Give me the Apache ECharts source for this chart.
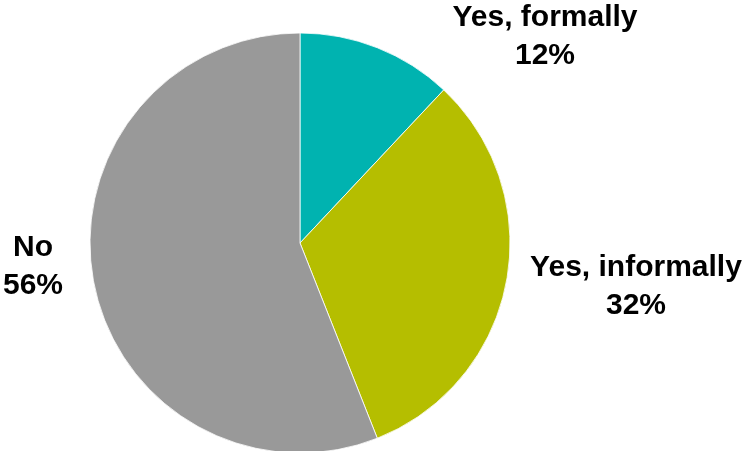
<!DOCTYPE html>
<html>
<head>
<meta charset="utf-8">
<script src="https://cdn.jsdelivr.net/npm/echarts@6/dist/echarts.min.js"></script>
<style>html,body{margin:0;padding:0;background:#fff}#c{width:745px;height:451px}</style>
</head>
<body>
<div id="c"></div>
<script>
const categories = ['Yes, formally', 'Yes, informally', 'No'];
const values = [12, 32, 56];
const colors = ['#00B3B0', '#B5BE00', '#999999'];
const labelSpots = [[545, 37], [636, 287], [33, 267]];

const chart = echarts.init(document.getElementById('c'), null, {renderer: 'canvas'});
chart.setOption({
  animation: false,
  series: [{
    type: 'pie',
    center: [300, 243],
    radius: 210,
    startAngle: 90,
    clockwise: true,
    data: categories.map((n, i) => ({name: n, value: values[i], itemStyle: {color: colors[i]}})),
    itemStyle: {borderColor: '#fff', borderWidth: 0.8},
    label: {
      show: true,
      position: 'outside',
      formatter: p => p.name + '\n' + p.value + '%',
      fontFamily: 'Liberation Sans, Arial, sans-serif',
      fontWeight: 'bold',
      fontSize: 30,
      lineHeight: 38,
      color: '#000',
      align: 'center',
      overflow: 'none',
      width: 300
    },
    labelLine: {show: false},
    labelLayout: p => ({x: labelSpots[p.dataIndex][0], y: labelSpots[p.dataIndex][1], align: 'center', verticalAlign: 'middle'}),
    emphasis: {disabled: true}
  }]
});
</script>
</body>
</html>
